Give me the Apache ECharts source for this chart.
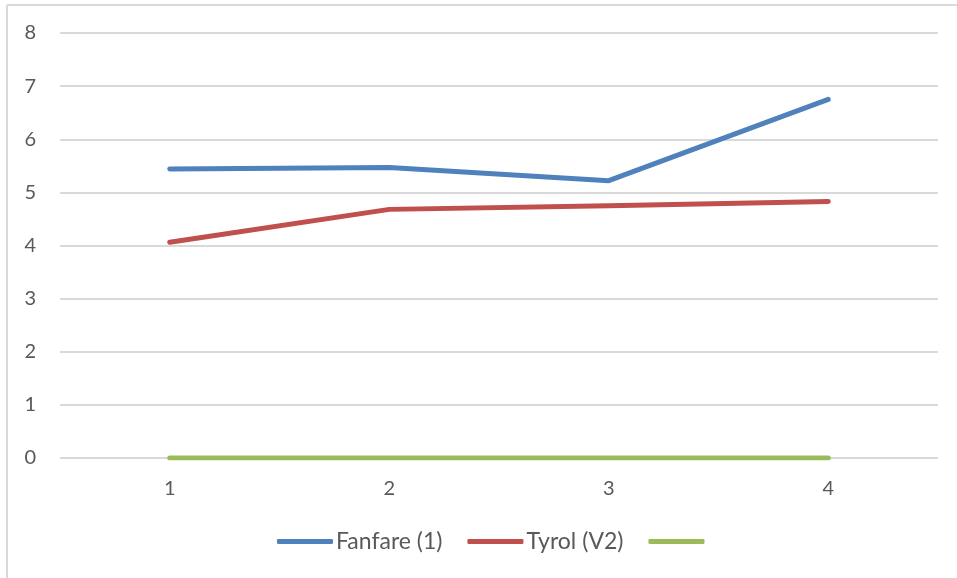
<!DOCTYPE html>
<html>
<head>
<meta charset="utf-8">
<script src="https://cdn.jsdelivr.net/npm/echarts@6/dist/echarts.min.js"></script>
<style>
  html, body { margin: 0; padding: 0; background: #fff; }
  #chart { width: 957px; height: 578px; }
</style>
</head>
<body>
<div id="chart"></div>
<script>
// Categories along the x axis
const categories = ['1', '2', '3', '4'];

// Series values
const fanfare = [5.44, 5.47, 5.22, 6.75];
const tyrol = [4.06, 4.68, 4.75, 4.83];
const series3 = [0, 0, 0, 0];

const seriesNames = ['Fanfare (1)', 'Tyrol (V2)', 'Series 3'];
const seriesColors = ['#4F81BD', '#C0504D', '#9BBB59'];

const FONT = 'Lato';
const TEXT = '#595959';

const chart = echarts.init(document.getElementById('chart'), null, { renderer: 'canvas' });

const makeLine = (name, data, color) => ({
  name: name,
  type: 'line',
  data: data,
  symbol: 'none',
  smooth: false,
  lineStyle: { color: color, width: 5, cap: 'round', join: 'round' },
  itemStyle: { color: color }
});

chart.setOption({
  animation: false,
  backgroundColor: '#ffffff',
  textStyle: { fontFamily: FONT, color: TEXT },
  grid: { left: 60, right: 19, top: 33, bottom: 120, containLabel: false },
  xAxis: {
    type: 'category',
    data: categories,
    boundaryGap: true,
    axisLine: { show: false },
    axisTick: { show: false },
    axisLabel: { color: TEXT, fontSize: 20, fontFamily: FONT, margin: 21 }
  },
  yAxis: {
    type: 'value',
    min: 0,
    max: 8,
    interval: 1,
    axisLine: { show: false },
    axisTick: { show: false },
    axisLabel: { color: TEXT, fontSize: 20, fontFamily: FONT, margin: 24 },
    splitLine: { lineStyle: { color: '#D9D9D9', width: 2 } }
  },
  legend: {
    bottom: 20,
    left: 272,
    padding: 5,
    itemWidth: 56,
    itemHeight: 5,
    itemGap: 25,
    icon: 'roundRect',
    textStyle: { color: TEXT, fontSize: 23, fontFamily: FONT, padding: [0, 0, 0, -2] },
    formatter: (name) => (name === seriesNames[2] ? '' : name),
    data: seriesNames
  },
  series: [
    makeLine(seriesNames[0], fanfare, seriesColors[0]),
    makeLine(seriesNames[1], tyrol, seriesColors[1]),
    makeLine(seriesNames[2], series3, seriesColors[2])
  ],
  graphic: [
    { type: 'line', shape: { x1: 7, y1: 5, x2: 957, y2: 5 }, style: { stroke: '#D9D9D9', lineWidth: 2 } },
    { type: 'line', shape: { x1: 7, y1: 5, x2: 7, y2: 578 }, style: { stroke: '#D9D9D9', lineWidth: 2 } }
  ]
});
</script>
</body>
</html>
